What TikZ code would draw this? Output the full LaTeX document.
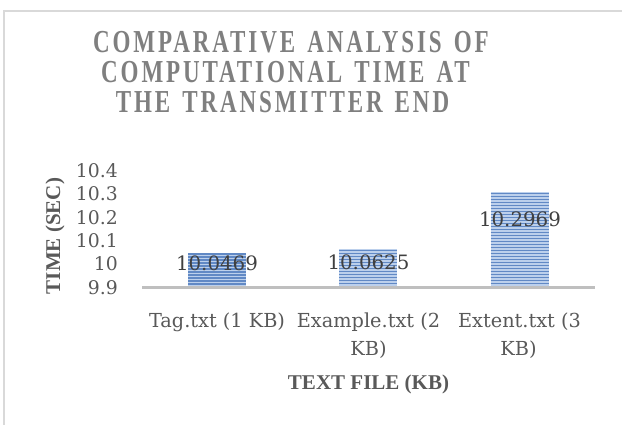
\documentclass[tikz,border=0pt]{standalone}
\usepackage{fontspec}
\setmainfont{DejaVu Serif}
\newfontfamily\titlefont[FakeStretch=0.72,LetterSpace=9,WordSpace=1.4]{Liberation Serif}
\newfontfamily\axisfont{Liberation Serif}
\definecolor{framegray}{HTML}{D9D9D9}
\definecolor{titlegray}{HTML}{7F7F7F}
\definecolor{textgray}{HTML}{595959}
\definecolor{labelgray}{HTML}{404040}
\definecolor{axisgray}{HTML}{BFBFBF}
\definecolor{barlight}{HTML}{BCD0EC}
\definecolor{barstripe}{HTML}{6189C5}
\tikzset{
  frame/.style={draw=framegray, line width=1.3pt},
  titleline/.style={anchor=base, inner sep=0pt, text=titlegray,
    font=\titlefont\bfseries\fontsize{32}{33}\selectfont},
  ticklabel/.style={anchor=base east, inner sep=0pt, text=textgray,
    font=\fontsize{18.8}{22}\selectfont},
  datalabel/.style={anchor=base, inner sep=0pt, text=labelgray,
    font=\fontsize{19.8}{24}\selectfont},
  catlabel/.style={anchor=base, inner sep=0pt, text=textgray,
    font=\fontsize{19.3}{28}\selectfont},
  axistitle/.style={inner sep=0pt, text=textgray,
    font=\axisfont\bfseries\fontsize{21}{24}\selectfont},
  axisline/.style={draw=axisgray, line width=3pt},
}
\begin{document}
\begin{tikzpicture}[x=1pt,y=-1pt]
\useasboundingbox (0,0) rectangle (622,425);
\fill[white] (0,0) rectangle (622,425);
% chart frame (left and top edges visible)
\draw[frame] (4,426) -- (4,11) -- (623,11);

% title
\node[titleline] (t1) at (291,53) {COMPARATIVE ANALYSIS OF};
\node[titleline] (t2) at (285.5,83) {COMPUTATIONAL TIME AT};
\node[titleline] (t3) at (282.5,113) {THE TRANSMITTER END};

% value axis: 9.9 at y=288, 234 px per second
\foreach \v/\lab in {9.9/9.9, 10/10, 10.1/10.1, 10.2/10.2, 10.3/10.3, 10.4/10.4}{
  \pgfmathsetmacro{\yy}{288-(\v-9.9)*234+6.3}
  \node[ticklabel] at (118,\yy) {\lab};
}

% bars with horizontal stripe fill
\foreach \cx/\top/\nm in {217/253/a, 368/249.5/b, 519.5/192.5/c}{
  \fill[barlight] (\cx-29,\top) rectangle (\cx+29,288);
  \pgfmathsetmacro{\nstr}{floor((288-\top)/3)}
  \foreach \k in {0,...,\nstr}{
    \pgfmathsetmacro{\ys}{\top+1+3*\k}
    \ifdim\ys pt<287pt
      \draw[barstripe, line width=1.1pt] (\cx-29,\ys) -- (\cx+29,\ys);
    \fi
  }
  \coordinate (bar\nm) at (\cx,\top);
}

% category axis
\coordinate (axl) at (142,288);
\coordinate (axr) at (595,288);
\draw[axisline] (axl) -- (axr);

% data labels
\node[datalabel] (la) at (217,270.5) {10.0469};
\node[datalabel] (lb) at (368.5,269.5) {10.0625};
\node[datalabel] (lc) at (520,226.5) {10.2969};

% category labels
\node[catlabel] (c1) at (217,327) {Tag.txt (1 KB)};
\node[catlabel] (c2) at (368.5,327) {Example.txt (2};
\node[catlabel] (c2b) at (368.5,355) {KB)};
\node[catlabel] (c3) at (519.5,327) {Extent.txt (3};
\node[catlabel] (c3b) at (518.5,355) {KB)};

% axis titles
\node[axistitle] (xt) at (368.5,384) {TEXT FILE (KB)};
\node[axistitle, rotate=90] (yt) at (55,236) {TIME (SEC)};
\end{tikzpicture}
\end{document}
